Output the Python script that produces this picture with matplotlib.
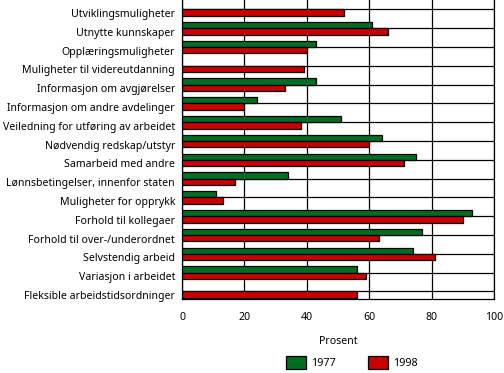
import matplotlib
matplotlib.use("Agg")
import matplotlib.pyplot as plt
import matplotlib.transforms as mtransforms
import numpy as np
from matplotlib.patches import Patch

categories = [
    "Utviklingsmuligheter", "Utnytte kunnskaper", "Opplæringsmuligheter",
    "Muligheter til videreutdanning", "Informasjon om avgjørelser",
    "Informasjon om andre avdelinger", "Veiledning for utføring av arbeidet",
    "Nødvendig redskap/utstyr", "Samarbeid med andre",
    "Lønnsbetingelser, innenfor staten", "Muligheter for opprykk",
    "Forhold til kollegaer", "Forhold til over-/underordnet",
    "Selvstendig arbeid", "Variasjon i arbeidet", "Fleksible arbeidstidsordninger",
]
v1977 = [np.nan, 61, 43, np.nan, 43, 24, 51, 64, 75, 34, 11, 93, 77, 74, 56, np.nan]
v1998 = [52, 66, 40, 39, 33, 20, 38, 60, 71, 17, 13, 90, 63, 81, 59, 56]
xticks = [0, 20, 40, 60, 80, 100]
series_names = ["1977", "1998"]

green = "#006e22"
red = "#c80000"

plt.rcParams['font.family'] = ['Noto Sans', 'DejaVu Sans']
fig = plt.figure(figsize=(5.04, 3.73), dpi=100)
ax = fig.add_axes([182/504, 74/373, (494-182)/504, 299/373])

y = np.arange(len(categories))
h = 0.335
ax.barh(y - h/2, v1977, height=h, color=green, edgecolor="black", linewidth=0.9, zorder=3)
ax.barh(y + h/2, v1998, height=h, color=red, edgecolor="black", linewidth=0.9, zorder=3)

ax.set_ylim(len(categories) - 1 + 0.4, -0.505)
ax.set_xlim(0, 100)
ax.set_yticks(y)
ax.set_yticklabels(categories, fontsize=7.6)
ax.set_xticks(xticks)
ax.set_xticklabels([str(t) for t in xticks], fontsize=7.6)
ax.tick_params(length=0)
ax.tick_params(axis='y', pad=5)
ax.tick_params(axis='x', pad=9)
offset = mtransforms.ScaledTranslation(0, -3.5/100, fig.dpi_scale_trans)
for lbl in ax.get_yticklabels():
    lbl.set_transform(lbl.get_transform() + offset)
ax.grid(True, color="black", linewidth=0.9, zorder=0)
ax.set_axisbelow(True)
for s in ["left", "right", "bottom"]:
    ax.spines[s].set_linewidth(0.9)
ax.spines["top"].set_visible(False)
ax.set_xlabel("Prosent", fontsize=7.6, labelpad=10)

handles = [Patch(facecolor=green, edgecolor="black", linewidth=0.9),
           Patch(facecolor=red, edgecolor="black", linewidth=0.9)]
fig.legend(handles, series_names, loc="center", bbox_to_anchor=(0.698, 0.027),
           ncol=2, frameon=False, fontsize=7.8, handlelength=1.9, handleheight=1.45,
           columnspacing=2.9, handletextpad=0.45)

fig.savefig("out.png", dpi=100)
